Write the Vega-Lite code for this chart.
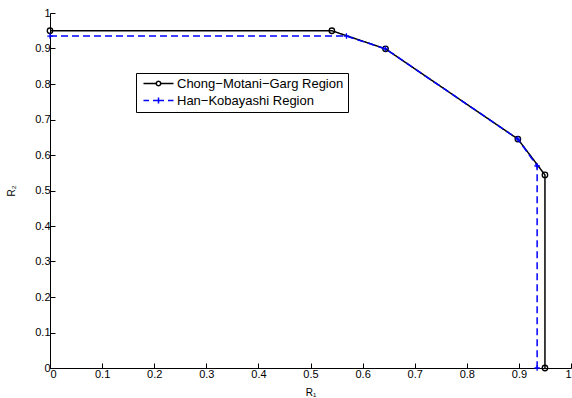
{
  "$schema": "https://vega.github.io/schema/vega-lite/v6.json",
  "width": 521,
  "height": 355,
  "autosize": {"type": "none"},
  "padding": {"left": 50, "top": 13, "right": 1, "bottom": 30},
  "background": "white",
  "config": {
    "view": {"stroke": null},
    "font": "Liberation Sans",
    "axis": {
      "grid": false,
      "domainColor": "black",
      "domainWidth": 1,
      "tickColor": "black",
      "tickSize": -5,
      "labelColor": "black",
      "labelFontSize": 11,
      "labelFont": "Liberation Sans",
      "labelOverlap": false,
      "titleFont": "Liberation Sans",
      "titleFontWeight": "normal",
      "titleFontSize": 10,
      "titleColor": "black",
      "format": "~g"
    }
  },
  "data": {
    "values": [
      {"series": "Chong−Motani−Garg Region", "k": 1, "r1": 0, "r2": 0.95},
      {"series": "Chong−Motani−Garg Region", "k": 2, "r1": 0.541, "r2": 0.95},
      {"series": "Chong−Motani−Garg Region", "k": 3, "r1": 0.644, "r2": 0.899},
      {"series": "Chong−Motani−Garg Region", "k": 4, "r1": 0.898, "r2": 0.645},
      {"series": "Chong−Motani−Garg Region", "k": 5, "r1": 0.95, "r2": 0.544},
      {"series": "Chong−Motani−Garg Region", "k": 6, "r1": 0.95, "r2": 0},
      {"series": "Han−Kobayashi Region", "k": 1, "r1": 0, "r2": 0.935},
      {"series": "Han−Kobayashi Region", "k": 2, "r1": 0.569, "r2": 0.935},
      {"series": "Han−Kobayashi Region", "k": 3, "r1": 0.644, "r2": 0.899},
      {"series": "Han−Kobayashi Region", "k": 4, "r1": 0.898, "r2": 0.645},
      {"series": "Han−Kobayashi Region", "k": 5, "r1": 0.935, "r2": 0.569},
      {"series": "Han−Kobayashi Region", "k": 6, "r1": 0.935, "r2": 0}
    ]
  },
  "encoding": {
    "x": {
      "field": "r1", "type": "quantitative",
      "scale": {"domain": [0, 1], "nice": false, "zero": false},
      "axis": {"title": "R₁", "values": [0,0.1,0.2,0.3,0.4,0.5,0.6,0.7,0.8,0.9,1], "labelPadding": 5, "titlePadding": 8}
    },
    "y": {
      "field": "r2", "type": "quantitative",
      "scale": {"domain": [0, 1], "nice": false, "zero": false},
      "axis": {"title": "R₂", "values": [0,0.1,0.2,0.3,0.4,0.5,0.6,0.7,0.8,0.9,1], "labelPadding": 5, "titlePadding": 18}
    }
  },
  "layer": [
    {
      "transform": [{"filter": "datum.series == 'Chong−Motani−Garg Region'"}],
      "mark": {"type": "point", "shape": "circle", "filled": false, "color": "black", "strokeWidth": 1.3, "size": 30, "opacity": 1}
    },
    {
      "mark": {"type": "line", "strokeWidth": 1.5},
      "encoding": {
        "order": {"field": "k", "type": "quantitative"},
        "color": {
          "field": "series", "type": "nominal",
          "scale": {"domain": ["Chong−Motani−Garg Region", "Han−Kobayashi Region"], "range": ["black", "#0000ff"]},
          "legend": {
            "title": null,
            "orient": "none",
            "legendX": 86,
            "legendY": 60,
            "padding": 4,
            "strokeColor": "black",
            "fillColor": "white",
            "symbolSize": 100,
            "symbolStrokeWidth": 1.5,
            "symbolOffset": 12,
            "labelOffset": 12,
            "labelFontSize": 13,
            "labelLimit": 400,
            "labelColor": "black",
            "labelFont": "Liberation Sans",
            "rowPadding": 3,
            "encode": {
              "symbols": {
                "update": {
                  "shape": {"signal": "indexof(datum.value,'Han')>=0 ? 'M-3,0L-1.9,0M-1.1,0L-0.4,0M0.4,0L1.1,0M1.9,0L3,0M0,-0.6L0,0.6M-0.6,0L0.6,0' : 'M-3,0L-0.45,0M0.45,0L3,0M0.45,0L0.39,0.225L0.225,0.39L0,0.45L-0.225,0.39L-0.39,0.225L-0.45,0L-0.39,-0.225L-0.225,-0.39L0,-0.45L0.225,-0.39L0.39,-0.225Z'"},
                  "fill": {"value": "transparent"},
                  "strokeDash": {"value": []}
                }
              }
            }
          }
        },
        "strokeDash": {
          "field": "series", "type": "nominal",
          "scale": {"domain": ["Chong−Motani−Garg Region", "Han−Kobayashi Region"], "range": [[1, 0], [7, 4]]},
          "legend": null
        }
      }
    },
    {
      "transform": [{"filter": "datum.series == 'Han−Kobayashi Region'"}],
      "mark": {"type": "point", "shape": "M-1,0L1,0M0,-1L0,1", "filled": false, "color": "#0000ff", "strokeWidth": 1.3, "size": 30, "opacity": 1}
    }
  ]
}
